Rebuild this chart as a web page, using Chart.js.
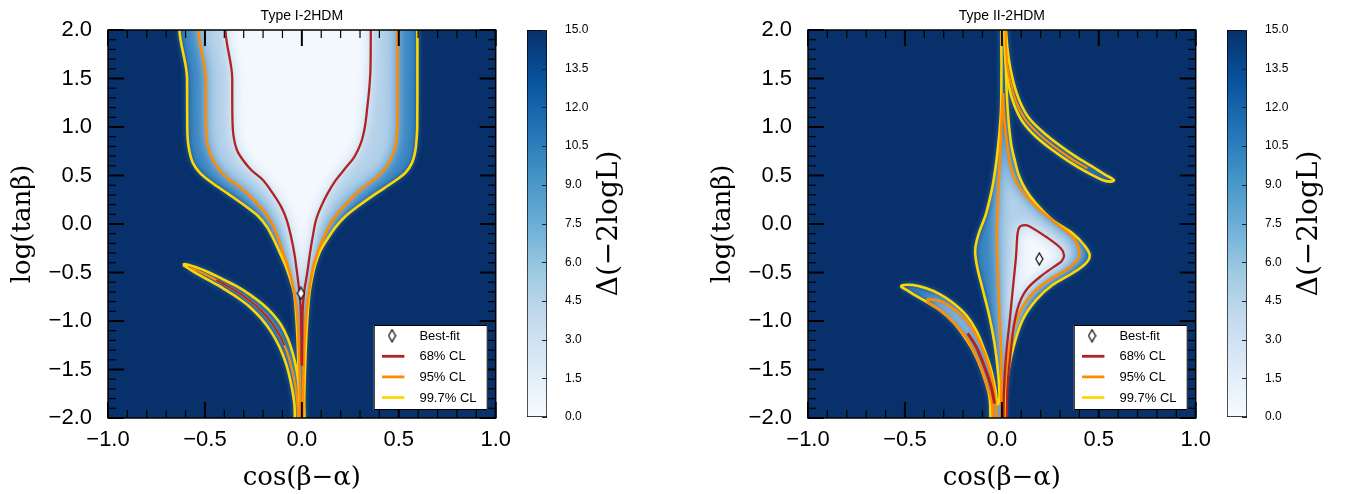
<!DOCTYPE html>
<html>
<head>
<meta charset="utf-8">
<script src="https://cdn.jsdelivr.net/npm/chart.js@4/dist/chart.umd.min.js"></script>
<style>
  html, body { margin: 0; padding: 0; background: #fff; }
  #wrap { position: relative; width: 1354px; height: 494px; overflow: hidden; }
  #wrap canvas { position: absolute; top: 0; }
</style>
</head>
<body>
<div id="wrap">
  <canvas id="panel1" width="520" height="494" style="left:0px"></canvas>
  <canvas id="cbar1" width="160" height="494" style="left:500px"></canvas>
  <canvas id="panel2" width="520" height="494" style="left:700px"></canvas>
  <canvas id="cbar2" width="160" height="494" style="left:1200px"></canvas>
</div>
<script>
// ---------- axis / colour-bar tick values ----------
const xTicks = [-1.0, -0.5, 0.0, 0.5, 1.0];
const yTicks = [-2.0, -1.5, -1.0, -0.5, 0.0, 0.5, 1.0, 1.5, 2.0];
const cbarTicks = [0.0, 1.5, 3.0, 4.5, 6.0, 7.5, 9.0, 10.5, 12.0, 13.5, 15.0];
const cbarRange = [0, 15];
const panelTitles = ['Type I-2HDM', 'Type II-2HDM'];
const legendLabels = ['Best-fit', '68% CL', '95% CL', '99.7% CL'];

// ---------- best-fit points (cos(beta-alpha), log tan beta) ----------
const bestFitI = [[-0.005, -0.715]];
const bestFitII = [[0.193, -0.36]];

// ---------- Type I contours ----------
const typeI_997_main = [
  [0.596, 2.15], [0.596, 1.5], [0.595, 1.0], [0.592, 0.88], [0.585, 0.75], [0.568, 0.63], [0.535, 0.53],
  [0.47, 0.43], [0.38, 0.31], [0.295, 0.19], [0.225, 0.08], [0.175, -0.03], [0.13, -0.16], [0.092, -0.29],
  [0.066, -0.44], [0.05, -0.58], [0.039, -0.715], [0.03, -0.92], [0.022, -1.2], [0.016, -1.5], [0.012, -1.8],
  [0.01, -2.15],
  [-0.012, -2.15], [-0.014, -1.8], [-0.017, -1.5], [-0.022, -1.2], [-0.03, -0.92], [-0.04, -0.715],
  [-0.058, -0.58], [-0.082, -0.44], [-0.115, -0.29], [-0.145, -0.16], [-0.18, -0.03], [-0.225, 0.08],
  [-0.295, 0.19], [-0.38, 0.31], [-0.467, 0.43], [-0.527, 0.53], [-0.562, 0.63], [-0.58, 0.75],
  [-0.589, 0.88], [-0.591, 1.0], [-0.592, 1.5], [-0.592, 2.15], [0.596, 2.15]
];
const typeI_95_main = [
  [0.493, 2.15], [0.493, 1.5], [0.492, 1.0], [0.486, 0.84], [0.466, 0.70], [0.43, 0.575], [0.378, 0.47],
  [0.313, 0.37], [0.248, 0.25], [0.193, 0.13], [0.15, 0.01], [0.115, -0.13], [0.082, -0.29], [0.058, -0.45],
  [0.042, -0.62], [0.03, -0.8], [0.02, -1.0], [0.012, -1.3], [0.007, -1.7], [0.005, -2.15],
  [-0.007, -2.15], [-0.01, -1.7], [-0.015, -1.3], [-0.022, -1.0], [-0.032, -0.8], [-0.048, -0.62],
  [-0.07, -0.45], [-0.098, -0.29], [-0.125, -0.13], [-0.155, 0.01], [-0.195, 0.13], [-0.249, 0.25],
  [-0.313, 0.37], [-0.38, 0.47], [-0.432, 0.575], [-0.468, 0.70], [-0.489, 0.84], [-0.495, 1.0],
  [-0.496, 1.5], [-0.496, 2.15], [0.493, 2.15]
];
const typeI_68_main = [
  [0.356, 2.15], [0.354, 1.6], [0.348, 1.4], [0.338, 1.21], [0.325, 1.0], [0.304, 0.83], [0.27, 0.69],
  [0.224, 0.574], [0.176, 0.454], [0.133, 0.316], [0.099, 0.179], [0.073, 0.041], [0.056, -0.13],
  [0.042, -0.3], [0.028, -0.5], [0.012, -0.7], [0.004, -0.9], [0.002, -1.2], [0.001, -1.45],
  [-0.001, -1.45], [-0.002, -1.2], [-0.005, -0.9], [-0.013, -0.7], [-0.025, -0.5], [-0.039, -0.3],
  [-0.056, -0.13], [-0.078, 0.041], [-0.107, 0.179], [-0.15, 0.316], [-0.201, 0.454], [-0.261, 0.557],
  [-0.304, 0.66], [-0.335, 0.763], [-0.352, 0.9], [-0.358, 1.07], [-0.359, 1.5], [-0.359, 2.15], [0.356, 2.15]
];
const typeI_997_leaf = [
  [-0.613, -0.423], [-0.604, -0.412], [-0.544, -0.447], [-0.476, -0.502], [-0.407, -0.570], [-0.339, -0.639],
  [-0.270, -0.725], [-0.202, -0.828], [-0.150, -0.928], [-0.107, -1.041], [-0.073, -1.179], [-0.047, -1.333],
  [-0.027, -1.505], [-0.013, -1.711], [-0.008, -2.15],
  [-0.030, -2.15], [-0.039, -1.849], [-0.056, -1.643], [-0.082, -1.436], [-0.116, -1.265], [-0.159, -1.110],
  [-0.210, -0.973], [-0.270, -0.852], [-0.339, -0.749], [-0.407, -0.663], [-0.476, -0.584], [-0.544, -0.509],
  [-0.599, -0.440], [-0.613, -0.423]
];
const typeI_95_leaf = [
  [-0.575, -0.45], [-0.544, -0.476], [-0.476, -0.541], [-0.407, -0.615], [-0.339, -0.693], [-0.27, -0.787],
  [-0.206, -0.9], [-0.155, -1.02], [-0.112, -1.155], [-0.078, -1.31], [-0.052, -1.49], [-0.033, -1.68],
  [-0.022, -1.88], [-0.018, -2.15]
];
const typeI_68_leaf = [
  [-0.44, -0.578], [-0.407, -0.615], [-0.339, -0.693], [-0.27, -0.787], [-0.206, -0.9], [-0.155, -1.02],
  [-0.112, -1.155], [-0.09, -1.25]
];

// ---------- Type II contours ----------
const typeII_997_main = [
  [0.018, 2.15], [0.020, 1.7], [0.025, 1.36], [0.033, 1.1], [0.040, 0.95], [0.050, 0.80], [0.064, 0.677],
  [0.088, 0.5], [0.124, 0.35], [0.176, 0.213], [0.261, 0.041], [0.364, -0.096], [0.424, -0.216],
  [0.453, -0.32], [0.433, -0.405], [0.364, -0.508], [0.261, -0.629], [0.176, -0.784], [0.107, -0.99],
  [0.056, -1.299], [0.030, -1.574], [0.016, -1.85], [0.013, -2.15],
  [-0.047, -2.15], [-0.064, -1.78], [-0.098, -1.54], [-0.141, -1.333], [-0.193, -1.162], [-0.253, -1.007],
  [-0.321, -0.887], [-0.39, -0.801], [-0.458, -0.722], [-0.506, -0.663], [-0.52, -0.645],
  [-0.506, -0.629], [-0.458, -0.629], [-0.39, -0.663], [-0.321, -0.722], [-0.253, -0.811], [-0.184, -0.938],
  [-0.133, -1.093], [-0.09, -1.299], [-0.055, -1.505], [-0.033, -1.711], [-0.022, -1.86],
  [-0.012, -1.78], [-0.021, -1.505], [-0.038, -1.23], [-0.064, -0.955], [-0.098, -0.68], [-0.124, -0.474],
  [-0.136, -0.337], [-0.136, -0.234], [-0.119, -0.096], [-0.081, 0.11], [-0.05, 0.37], [-0.035, 0.55],
  [-0.025, 0.7], [-0.012, 0.95], [-0.004, 1.19], [-0.002, 1.6], [0.0, 2.15], [0.018, 2.15]
];
const typeII_997_arc = [
  [0.0214, 2.15], [0.0214, 1.983], [0.035, 1.708], [0.059, 1.467], [0.093, 1.261], [0.141, 1.09],
  [0.21, 0.952], [0.296, 0.814], [0.382, 0.694], [0.467, 0.591], [0.536, 0.505], [0.574, 0.461],
  [0.578, 0.448],
  [0.561, 0.437], [0.519, 0.454], [0.433, 0.54], [0.347, 0.643], [0.261, 0.763], [0.176, 0.9],
  [0.107, 1.055], [0.064, 1.227], [0.035, 1.433], [0.018, 1.708], [0.013, 1.966], [0.013, 2.15], [0.0214, 2.15]
];
const typeII_95_arc = [
  [0.017, 2.15], [0.022, 1.8], [0.03, 1.6], [0.047, 1.45], [0.075, 1.25], [0.122, 1.075], [0.19, 0.928],
  [0.275, 0.79], [0.36, 0.67], [0.44, 0.575]
];
const typeII_95_main = [
  [0.006, 1.35], [0.012, 1.1], [0.025, 0.85], [0.047, 0.574], [0.075, 0.43], [0.107, 0.333], [0.176, 0.179],
  [0.278, 0.007], [0.364, -0.131], [0.398, -0.268], [0.39, -0.371], [0.33, -0.474], [0.244, -0.577],
  [0.158, -0.715], [0.09, -0.921], [0.047, -1.196], [0.021, -1.54], [0.009, -1.85], [0.007, -2.15],
  [-0.001, -2.15], [-0.002, -1.85], [-0.004, -1.333], [-0.013, -0.887], [-0.021, -0.474], [-0.026, -0.131],
  [-0.021, 0.213], [-0.013, 0.557], [-0.005, 0.9], [0.0, 1.15], [0.006, 1.35]
];
const typeII_95_leaf = [
  [-0.386, -0.785], [-0.381, -0.777], [-0.321, -0.794], [-0.253, -0.87], [-0.184, -0.99], [-0.133, -1.144],
  [-0.09, -1.333], [-0.058, -1.54], [-0.036, -1.78], [-0.026, -2.15],
  [-0.04, -2.15], [-0.05, -1.849], [-0.081, -1.643], [-0.124, -1.402], [-0.176, -1.196], [-0.245, -1.024],
  [-0.321, -0.887], [-0.376, -0.818], [-0.386, -0.785]
];
const typeII_68_main = [
  [0.007, -2.15], [0.011, -1.711], [0.021, -1.368], [0.039, -1.024], [0.056, -0.68], [0.073, -0.337],
  [0.081, -0.096], [0.09, -0.035], [0.107, -0.015], [0.133, -0.015], [0.227, -0.131], [0.304, -0.25],
  [0.321, -0.325], [0.31, -0.38], [0.295, -0.405], [0.21, -0.525], [0.133, -0.663], [0.09, -0.818],
  [0.064, -1.024], [0.047, -1.299], [0.030, -1.643], [0.021, -2.15], [0.007, -2.15]
];
const typeII_68_leaf = [
  [-0.176, -1.127], [-0.133, -1.264], [-0.09, -1.471], [-0.055, -1.677], [-0.038, -1.85]
];

// ---------- styles ----------
const NAVY = '#08306b';
const bluesStops = [[0, '#f7fbff'], [0.125, '#deebf7'], [0.25, '#c6dbef'], [0.375, '#9ecae1'], [0.5, '#6baed6'],
  [0.625, '#4292c6'], [0.75, '#2171b5'], [0.875, '#08519c'], [1, '#08306b']];
const levelStyle = {
  cl68:  { line: '#b22222', fill: '#f3f8fd', blur: 7, width: 2.3, order: 2 },
  cl95:  { line: '#ff8c00', fill: '#b3d1e9', blur: 7, width: 2.6, order: 3 },
  cl997: { line: '#ffd700', fill: '#3885c1', blur: 3, width: 2.6, order: 4 }
};

Chart.defaults.font.family = "'Liberation Sans', Arial, sans-serif";
Chart.defaults.color = '#000';

const fmt = v => (v < 0 ? '\u2212' : '') + Math.abs(v).toFixed(1);
const toXY = arr => arr.map(p => ({ x: p[0], y: p[1] }));

// thin diamond marker
const diamond = (() => {
  const c = document.createElement('canvas');
  c.width = 9; c.height = 14;
  const g = c.getContext('2d');
  g.beginPath();
  g.moveTo(4.5, 1); g.lineTo(8, 7); g.lineTo(4.5, 13); g.lineTo(1, 7); g.closePath();
  g.fillStyle = '#fff'; g.fill();
  g.lineWidth = 1.2; g.strokeStyle = '#000'; g.stroke();
  return c;
})();

function contour(points, level, closed, width) {
  const st = levelStyle[level];
  return {
    data: toXY(points),
    showLine: true,
    borderColor: st.line,
    borderWidth: width || st.width,
    pointRadius: 0,
    pointHoverRadius: 0,
    tension: 0.35,
    clip: 0,
    order: st.order,
    regionLevel: closed ? level : null
  };
}

// trace a dataset's line (as laid out by the scales) into the current path
function tracePath(chart, i) {
  const ctx = chart.ctx;
  const meta = chart.getDatasetMeta(i);
  const line = meta.dataset;
  if (line && typeof line.path === 'function') {
    line.updateControlPoints(chart.chartArea, 'x');
    line.path(ctx);
  } else {
    meta.data.forEach((pt, k) => k ? ctx.lineTo(pt.x, pt.y) : ctx.moveTo(pt.x, pt.y));
  }
  ctx.closePath();
}

// shaded likelihood regions behind the contour lines
function fillRegions(chart) {
  const { ctx, chartArea: a } = chart;
  const sets = chart.data.datasets;
  const idx = level => sets.map((d, i) => d.regionLevel === level ? i : -1).filter(i => i >= 0);
  ctx.save();
  ctx.fillStyle = NAVY;
  ctx.fillRect(a.left, a.top, a.width, a.height);
  ctx.beginPath();
  ctx.rect(a.left, a.top, a.width, a.height);
  ctx.clip();

  // outermost (99.7%) region with a soft rim
  const outer = idx('cl997');
  ctx.save();
  ctx.filter = 'blur(' + levelStyle.cl997.blur + 'px)';
  ctx.fillStyle = levelStyle.cl997.fill;
  ctx.beginPath();
  outer.forEach(i => tracePath(chart, i));
  ctx.fill();
  ctx.restore();

  // inner regions, kept inside the outer contour
  ctx.save();
  ctx.beginPath();
  outer.forEach(i => tracePath(chart, i));
  ctx.clip();
  ['cl95', 'cl68'].forEach(level => {
    const st = levelStyle[level];
    idx(level).forEach(i => {
      ctx.save();
      ctx.filter = 'blur(' + st.blur + 'px)';
      ctx.fillStyle = st.fill;
      ctx.beginPath();
      tracePath(chart, i);
      ctx.fill();
      ctx.restore();
    });
  });
  ctx.restore();
  ctx.restore();
}

// inward major/minor ticks on all four sides, frame and legend box
function drawFrame(chart) {
  const { ctx, chartArea: a, scales: { x, y } } = chart;
  const MAJ = 16, MIN = 8;
  ctx.save();
  ctx.strokeStyle = '#000';
  const tick = (px, py, dx, dy, w) => {
    ctx.lineWidth = w;
    ctx.beginPath(); ctx.moveTo(px, py); ctx.lineTo(px + dx, py + dy); ctx.stroke();
  };
  const xMinor = [], yMinor = [];
  for (let k = -10; k <= 10; k++) if (k % 5) xMinor.push(k / 10);
  for (let k = -20; k <= 20; k++) if (k % 5) yMinor.push(k / 10);
  xMinor.forEach(v => { const p = x.getPixelForValue(v); tick(p, a.bottom, 0, -MIN, 1.2); tick(p, a.top, 0, MIN, 1.2); });
  yMinor.forEach(v => { const p = y.getPixelForValue(v); tick(a.left, p, MIN, 0, 1.2); tick(a.right, p, -MIN, 0, 1.2); });
  xTicks.forEach(v => { const p = x.getPixelForValue(v); tick(p, a.bottom, 0, -MAJ, 2); tick(p, a.top, 0, MAJ, 2); });
  yTicks.forEach(v => { const p = y.getPixelForValue(v); tick(a.left, p, MAJ, 0, 2); tick(a.right, p, -MAJ, 0, 2); });
  ctx.lineWidth = 1.5;
  ctx.strokeRect(a.left, a.top, a.width, a.height);

  // legend
  const w = 114, h = 85;
  const bx = a.right - 8 - w, by = a.bottom - 8 - h;
  ctx.fillStyle = '#fff';
  ctx.fillRect(bx, by, w, h);
  ctx.lineWidth = 1;
  ctx.strokeRect(bx + 0.5, by + 0.5, w - 1, h - 1);
  ctx.font = "13px 'Liberation Sans', Arial, sans-serif";
  ctx.textBaseline = 'middle';
  ctx.textAlign = 'left';
  const rowColors = [null, levelStyle.cl68.line, levelStyle.cl95.line, levelStyle.cl997.line];
  legendLabels.forEach((lab, i) => {
    const ry = by + 10.7 + i * 20.6;
    if (i === 0) {
      ctx.drawImage(diamond, bx + 18.3 - diamond.width / 2, ry - diamond.height / 2);
    } else {
      ctx.strokeStyle = rowColors[i];
      ctx.lineWidth = 2.8;
      ctx.beginPath(); ctx.moveTo(bx + 8.3, ry); ctx.lineTo(bx + 30.7, ry); ctx.stroke();
    }
    ctx.fillStyle = '#000';
    ctx.fillText(lab, bx + 45.7, ry + 0.5);
  });
  ctx.restore();
}

const panelDecor = {
  id: 'panelDecor',
  beforeDatasetsDraw: fillRegions,
  afterDatasetsDraw: drawFrame
};

function makePanel(id, title, sets, best) {
  const datasets = [{
    data: toXY(best), showLine: false, pointStyle: diamond, pointRadius: 6, pointHoverRadius: 6, order: 0, clip: false
  }];
  sets.forEach(s => datasets.push(contour(s[0], s[1], s[2], s[3])));
  return new Chart(document.getElementById(id), {
    type: 'scatter',
    data: { datasets },
    options: {
      responsive: false, animation: false, devicePixelRatio: 1,
      events: [],
      layout: { padding: { left: 0, right: 23, top: 0, bottom: 0 } },
      plugins: {
        legend: { display: false },
        tooltip: { enabled: false },
        title: {
          display: true, text: title, fullSize: false, color: '#000',
          font: { size: 14, weight: 'normal' }, padding: { top: 8, bottom: 5.2 }
        }
      },
      scales: {
        x: {
          type: 'linear', min: -1, max: 1,
          afterBuildTicks: s => { s.ticks = xTicks.map(v => ({ value: v })); },
          afterFit: s => { s.height = 76; },
          ticks: { callback: fmt, font: { size: 22 }, padding: 9, maxRotation: 0, color: '#000' },
          grid: { display: false, drawTicks: false },
          border: { display: false },
          title: { display: true, text: 'cos(\u03b2\u2212\u03b1)', color: '#000',
                   font: { family: "'DejaVu Serif', serif", size: 26 }, padding: { top: 0, bottom: 0 } }
        },
        y: {
          type: 'linear', min: -2, max: 2,
          afterBuildTicks: s => { s.ticks = yTicks.map(v => ({ value: v })); },
          afterFit: s => { s.width = 108; },
          ticks: { callback: fmt, font: { size: 22 }, padding: 16, color: '#000' },
          grid: { display: false, drawTicks: false },
          border: { display: false },
          title: { display: true, text: 'log(tan\u03b2)', color: '#000',
                   font: { family: "'DejaVu Serif', serif", size: 26 }, padding: { top: 8, bottom: 0 } }
        }
      }
    },
    plugins: [panelDecor]
  });
}

// colour bar: a single floating bar filled with the Blues colour map
const cbarDecor = {
  id: 'cbarDecor',
  afterDatasetsDraw(chart) {
    const { ctx, chartArea: a, scales: { y } } = chart;
    ctx.save();
    ctx.strokeStyle = '#222';
    ctx.lineWidth = 1;
    cbarTicks.forEach(v => {
      const p = Math.round(y.getPixelForValue(v)) + 0.5;
      ctx.beginPath(); ctx.moveTo(a.right - 5, p); ctx.lineTo(a.right, p); ctx.stroke();
    });
    ctx.translate(a.right + 63, (a.top + a.bottom) / 2);
    ctx.rotate(-Math.PI / 2);
    ctx.font = "28px 'DejaVu Serif', serif";
    ctx.fillStyle = '#000';
    ctx.textAlign = 'center';
    ctx.textBaseline = 'middle';
    ctx.fillText('\u0394(\u22122logL)', 0, 0);
    ctx.restore();
  }
};

function makeColorbar(id) {
  return new Chart(document.getElementById(id), {
    type: 'bar',
    data: {
      labels: [''],
      datasets: [{
        data: [cbarRange],
        backgroundColor: c => {
          const a = c.chart.chartArea;
          if (!a) return NAVY;
          const g = c.chart.ctx.createLinearGradient(0, a.bottom, 0, a.top);
          bluesStops.forEach(s => g.addColorStop(s[0], s[1]));
          return g;
        },
        borderColor: '#000', borderWidth: 1, borderSkipped: false,
        barPercentage: 1, categoryPercentage: 1
      }]
    },
    options: {
      responsive: false, animation: false, devicePixelRatio: 1, events: [],
      layout: { padding: { left: 27, top: 30, bottom: 77, right: 0 } },
      plugins: { legend: { display: false }, tooltip: { enabled: false } },
      scales: {
        x: { display: false },
        y: {
          position: 'right', min: cbarRange[0], max: cbarRange[1],
          afterBuildTicks: s => { s.ticks = cbarTicks.map(v => ({ value: v })); },
          afterFit: s => { s.width = 113; },
          ticks: { callback: v => v.toFixed(1), padding: 18, font: { size: 12 }, color: '#000' },
          grid: { display: false, drawTicks: false },
          border: { display: false }
        }
      }
    },
    plugins: [cbarDecor]
  });
}

makePanel('panel1', panelTitles[0], [
  [typeI_997_main, 'cl997', true], [typeI_997_leaf, 'cl997', true],
  [typeI_95_main, 'cl95', true], [typeI_95_leaf, 'cl95', false, 2.2],
  [typeI_68_main, 'cl68', true], [typeI_68_leaf, 'cl68', false, 1.8]
], bestFitI);
makePanel('panel2', panelTitles[1], [
  [typeII_997_main, 'cl997', true], [typeII_997_arc, 'cl997', true],
  [typeII_95_main, 'cl95', true], [typeII_95_leaf, 'cl95', true], [typeII_95_arc, 'cl95', false, 2.2],
  [typeII_68_main, 'cl68', true], [typeII_68_leaf, 'cl68', false, 3]
], bestFitII);
makeColorbar('cbar1');
makeColorbar('cbar2');
</script>
</body>
</html>
